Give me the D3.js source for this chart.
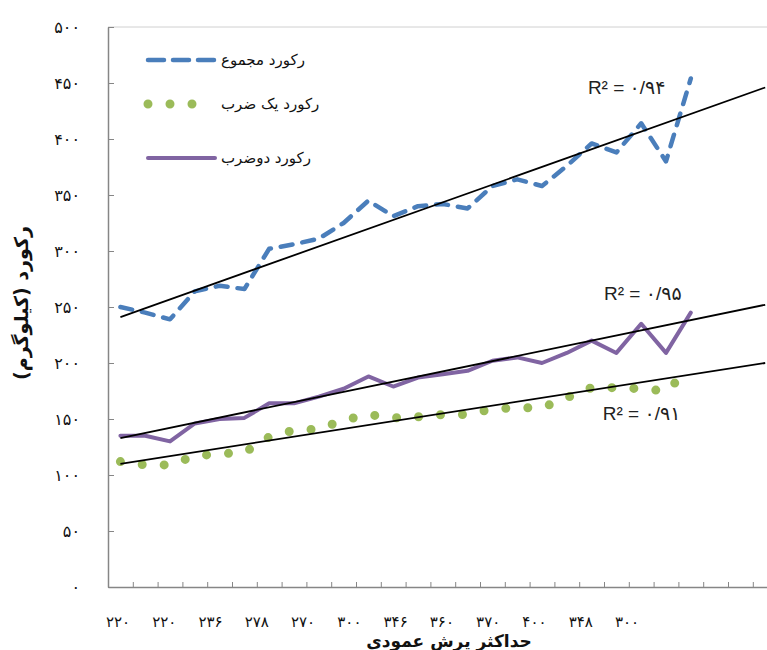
<!DOCTYPE html>
<html><head><meta charset="utf-8">
<script src="https://cdn.jsdelivr.net/npm/d3@7"></script>
<style>
html,body{margin:0;padding:0;background:#fff;}
svg{display:block;font-family:"DejaVu Sans",sans-serif;}
</style></head>
<body><svg id="c" width="767" height="650"></svg>
<script>
// ---- data ----
const categories = d3.range(24);
const totalRecord = [250,245,239,264,269,266,302,306,311,325,345,331,340,342,338,358,364,358,376,396,388,414,380,454];
const snatchRecord = [112,109,109,117,119,120,134,140,141,149,154,151,152,154,154,159,160,160,169,178,178,177,175,195];
const cleanJerkRecord = [135,135,130,146,150,151,164,164,170,177,188,179,187,190,193,202,205,200,209,220,209,235,209,245];
// trend lines (linear, forecast forward 3 periods): [value at first category, value at last forecast category]
const trendTotal = [241, 446];
const trendSnatch = [110, 200];
const trendCleanJerk = [133, 252];
const trendEndIndex = 26;
const r2Labels = ["R² = ۰/۹۴", "R² = ۰/۹۵", "R² = ۰/۹۱"];
const xTickLabels = ["۲۲۰","۲۲۰","۲۳۶","۲۷۸","۲۷۰","۳۰۰","۳۴۶","۳۶۰","۳۷۰","۴۰۰","۳۴۸","۳۰۰"];
const yTicks = [0,50,100,150,200,250,300,350,400,450,500];
const yTickLabels = ["۰","۵۰","۱۰۰","۱۵۰","۲۰۰","۲۵۰","۳۰۰","۳۵۰","۴۰۰","۴۵۰","۵۰۰"];
const seriesNames = ["رکورد مجموع","رکورد یک ضرب","رکورد دوضرب"];
const xTitle = "حداکثر پرش عمودی";
const yTitle = "رکورد (کیلوگرم)";

// ---- layout ----
const svg = d3.select("#c");
const mLeft = 108, mTop = 27, mBottom = 587, nSlots = 27, slotW = 24.8;
const xl = d3.scaleLinear().domain([0, nSlots]).range([mLeft, mLeft + nSlots*slotW]);
const xc = i => xl(i + 0.5);
const y = d3.scaleLinear().domain([0, 500]).range([mBottom, mTop]);
const xLab = d3.scalePoint().domain(d3.range(xTickLabels.length)).range([118, 627]);

// top border
svg.append("line").attr("x1", mLeft).attr("x2", 767).attr("y1", mTop).attr("y2", mTop)
  .attr("stroke", "#d0d0d0").attr("stroke-width", 1);

// y axis
const yAxis = d3.axisLeft(y).tickValues(yTicks).tickSizeInner(-6).tickSizeOuter(0).tickPadding(28)
  .tickFormat((d,i) => yTickLabels[i]);
const gy = svg.append("g").attr("transform", `translate(${mLeft},0)`).call(yAxis);
gy.select(".domain").attr("stroke", "#868686").attr("stroke-width", 1.5);
gy.selectAll(".tick line").attr("stroke", "#868686");
gy.selectAll(".tick text").attr("font-size", 16).attr("fill", "#111").attr("font-family", "DejaVu Sans");

// x axis (tick marks between categories)
const xAxis = d3.axisBottom(xl).tickValues(d3.range(0, nSlots+1)).tickSizeInner(-5).tickSizeOuter(0).tickFormat("");
const gx = svg.append("g").attr("transform", `translate(0,${mBottom})`).call(xAxis);
gx.select(".domain").attr("stroke", "#868686").attr("stroke-width", 1.5);
gx.selectAll(".tick line").attr("stroke", "#868686");

// x tick labels
svg.append("g").selectAll("text").data(xTickLabels).join("text")
  .attr("x", (d,i) => xLab(i)).attr("y", 627).attr("text-anchor", "middle")
  .attr("font-size", 15).attr("fill", "#111").text(d => d);

// titles
svg.append("text").attr("x", 449).attr("y", 647).attr("text-anchor", "middle")
  .attr("font-size", 17).attr("font-weight", "bold").attr("fill", "#111").text(xTitle);
svg.append("text").attr("transform", "translate(28,303) rotate(-90)").attr("text-anchor", "middle")
  .attr("font-size", 19).attr("font-weight", "bold").attr("fill", "#111").text(yTitle);

// series
const line = d3.line().x((d,i) => xc(i)).y(d => y(d));
const styles = [
  {data: totalRecord, color: "#4a7ebb", width: 4.5, dash: "12,10", cap: "round"},
  {data: snatchRecord, color: "#9bbb59", width: 9, dash: "0,22", cap: "round"},
  {data: cleanJerkRecord, color: "#8064a2", width: 4, dash: null, cap: "round"}
];
styles.forEach(s => {
  svg.append("path").datum(s.data).attr("d", line).attr("fill", "none")
    .attr("stroke", s.color).attr("stroke-width", s.width)
    .attr("stroke-dasharray", s.dash).attr("stroke-linecap", s.cap).attr("stroke-linejoin", "round");
});

// trend lines
[trendTotal, trendCleanJerk, trendSnatch].forEach(t => {
  svg.append("line").attr("x1", xc(0)).attr("y1", y(t[0]))
    .attr("x2", xc(trendEndIndex)).attr("y2", y(t[1]))
    .attr("stroke", "#000").attr("stroke-width", 1.8);
});

// R² labels
const r2Pos = [[19.35, 440], [20.0, 256], [19.95, 149]];
r2Labels.forEach((t,i) => {
  svg.append("text").attr("x", xl(r2Pos[i][0])).attr("y", y(r2Pos[i][1]))
    .attr("font-size", 19).attr("fill", "#222").attr("font-family", "Liberation Sans, DejaVu Sans").text(t);
});

// legend
const lg = svg.append("g");
const legY = [60, 104, 158];
styles.forEach((s,i) => {
  lg.append("line").attr("x1", 148).attr("x2", i === 1 ? 214 : 215).attr("y1", legY[i]).attr("y2", legY[i])
    .attr("stroke", s.color).attr("stroke-width", s.width)
    .attr("stroke-dasharray", i === 0 ? "16,9" : s.dash).attr("stroke-linecap", s.cap);
  lg.append("text").attr("x", 221).attr("y", legY[i] + 5).attr("font-size", 15)
    .attr("fill", "#111").text(seriesNames[i]);
});
</script></body></html>
